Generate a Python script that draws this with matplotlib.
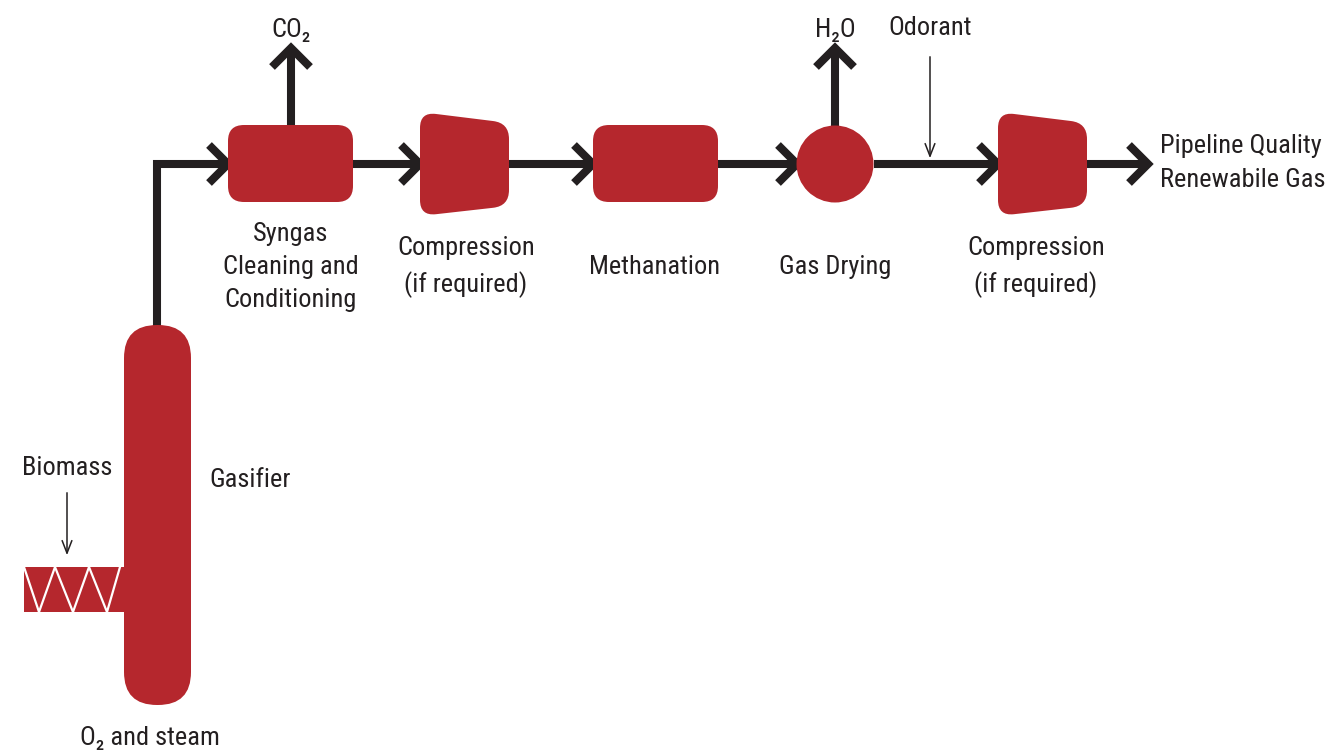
import numpy as np
import matplotlib
matplotlib.use('Agg')
import matplotlib.pyplot as plt
from matplotlib.path import Path
from matplotlib.patches import PathPatch, FancyBboxPatch, Circle, Rectangle
from matplotlib.lines import Line2D

plt.rcParams['font.family'] = ['Roboto Condensed', 'Roboto', 'DejaVu Sans']
plt.rcParams['font.stretch'] = 'condensed'

RED = '#b5272d'
INK = '#231f20'
FS = 19
LW = 5.8  # ~8 px thick process lines
LS = 1.5

# labels of the diagram
unit_labels = ['Syngas\nCleaning and\nConditioning', 'Compression\n(if required)',
               'Methanation', 'Gas Drying', 'Compression\n(if required)']
vent_labels = ['CO₂', 'H₂O']
feed_labels = ['Biomass', 'Odorant']
gasifier_label = 'Gasifier'
bottom_label = 'O₂ and steam'
product_label = 'Pipeline Quality\nRenewabile Gas'

# layout (pixel coords, y downward)
FLOW_Y = 164
unit_cx = [291, 466, 655, 835, 1036]
label_y = 267

fig = plt.figure(figsize=(13.26, 7.56), dpi=100)
ax = fig.add_axes([0, 0, 1, 1])
ax.set_xlim(0, 1326)
ax.set_ylim(756, 0)
ax.axis('off')


def line(pts, lw=LW, color=INK):
    xs, ys = zip(*pts)
    ax.add_line(Line2D(xs, ys, lw=lw, color=color, solid_joinstyle='miter',
                       solid_capstyle='butt', zorder=2))


def chevron(x, y, d='right', s=19):
    if d == 'right':
        pts = [(x - s, y - s), (x, y), (x - s, y + s)]
    else:  # up
        pts = [(x - s, y + s), (x, y), (x + s, y + s)]
    line(pts)


def rounded_poly(verts, r):
    verts = np.array(verts, float)
    n = len(verts)
    codes, pts = [], []
    for i in range(n):
        p0, p1, p2 = verts[i - 1], verts[i], verts[(i + 1) % n]
        a = p1 + (p0 - p1) / np.linalg.norm(p0 - p1) * r
        b = p1 + (p2 - p1) / np.linalg.norm(p2 - p1) * r
        codes += [Path.MOVETO if i == 0 else Path.LINETO, Path.CURVE3, Path.CURVE3]
        pts += [a, p1, b]
    codes.append(Path.CLOSEPOLY)
    pts.append(pts[0])
    return Path(pts, codes)


def box(x0, x1, y0, y1, r):
    ax.add_patch(FancyBboxPatch((x0 + r, y0 + r), x1 - x0 - 2 * r, y1 - y0 - 2 * r,
                                boxstyle='round,pad=%d' % r, fc=RED, ec='none', zorder=3))


def compressor(xl):
    xr = xl + 89
    path = rounded_poly([(xl, 112), (xr, 123), (xr, 206), (xl, 216)], 16)
    ax.add_patch(PathPatch(path, fc=RED, ec='none', zorder=3))


# gasifier column
box(124, 191, 325, 705, 33)
# screw feeder
ax.add_patch(Rectangle((24, 567), 100, 45, fc=RED, ec='none', zorder=3))
zig_x = [24, 39, 55, 73, 89, 107, 120]
zig_y = [567, 612] * 4
ax.plot(zig_x, zig_y[:len(zig_x)], color='white', lw=1.6, zorder=4)

# flow from gasifier to cleanup
line([(157, 326), (157, FLOW_Y), (226, FLOW_Y)])
chevron(228, FLOW_Y)

# process units
box(228, 353, 125, 202, 16)
compressor(420)
box(593, 718, 125, 202, 16)
ax.add_patch(Circle((835, FLOW_Y), 38.5, fc=RED, ec='none', zorder=3))
compressor(998)

# connecting lines
line([(353, FLOW_Y), (418, FLOW_Y)]); chevron(420, FLOW_Y)
line([(509, FLOW_Y), (591, FLOW_Y)]); chevron(593, FLOW_Y)
line([(718, FLOW_Y), (795, FLOW_Y)]); chevron(797, FLOW_Y)
line([(874, FLOW_Y), (996, FLOW_Y)]); chevron(998, FLOW_Y)
line([(1087, FLOW_Y), (1146, FLOW_Y)]); chevron(1148, FLOW_Y)

# vents
for cx, top, lab in zip([291, 835], [125, 126], vent_labels):
    line([(cx, top), (cx, 50)])
    chevron(cx, 48, d='up')
    ax.text(cx, 30, lab, ha='center', va='center', fontsize=FS, color=INK)

# feeds (thin arrows)
feed_pos = [(67, 468, 490, 558), (930, 28, 54, 161)]
for (fx, ty, y0, y1), lab in zip(feed_pos, feed_labels):
    ax.annotate('', xy=(fx, y1), xytext=(fx, y0),
                arrowprops=dict(arrowstyle='->,head_length=0.9,head_width=0.35',
                                color=INK, lw=1.1), zorder=5)
    ax.text(fx, ty, lab, ha='center', va='center', fontsize=FS, color=INK)

# unit labels
for cx, lab in zip(unit_cx, unit_labels):
    ax.text(cx, label_y, lab, ha='center', va='center', fontsize=FS, color=INK,
            linespacing=LS, multialignment='center')

ax.text(209, 480, gasifier_label, ha='left', va='center', fontsize=FS, color=INK)
ax.text(150, 738, bottom_label, ha='center', va='center', fontsize=FS, color=INK)
ax.text(1160, 163, product_label, ha='left', va='center', fontsize=FS, color=INK,
        linespacing=LS)

fig.savefig('out.png', dpi=100)
